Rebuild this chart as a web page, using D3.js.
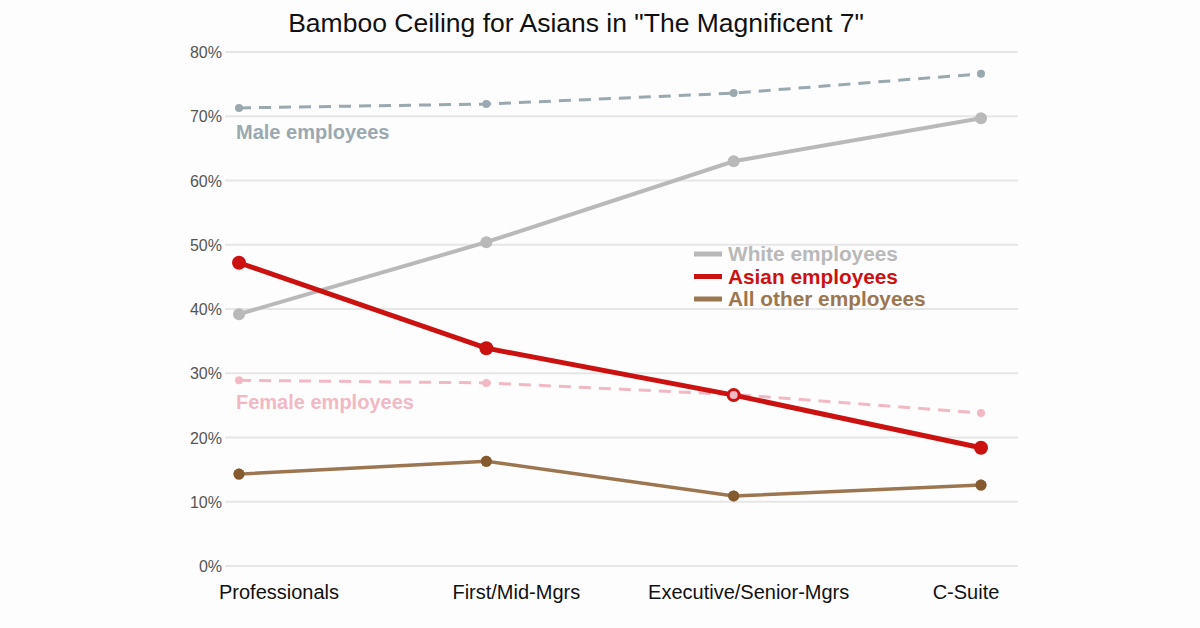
<!DOCTYPE html>
<html><head><meta charset="utf-8">
<script src="https://cdn.jsdelivr.net/npm/d3@7"></script>
<style>body{margin:0;background:#fdfdfd}text{font-family:"Liberation Sans",Arial,sans-serif}</style>
</head><body>
<svg id="chart" width="1200" height="628"></svg>
<script>
var categories = ["Professionals", "First/Mid-Mgrs", "Executive/Senior-Mgrs", "C-Suite"];
var yTicks = [0, 10, 20, 30, 40, 50, 60, 70, 80];
var male = [71.3, 71.9, 73.6, 76.6];
var female = [28.9, 28.5, 26.7, 23.8];
var white = [39.2, 50.4, 63.0, 69.7];
var asian = [47.2, 33.9, 26.6, 18.4];
var other = [14.3, 16.3, 10.9, 12.6];

var svg = d3.select("#chart");
var x = d3.scalePoint().domain(categories).range([239, 981]);
var y = d3.scaleLinear().domain([0, 80]).range([566, 52]);
var labelShift = [40, 30, 15, -15];

// gridlines + y labels
svg.selectAll(".grid").data(yTicks).enter().append("line")
    .attr("x1", 225).attr("x2", 1018)
    .attr("y1", function (d) { return y(d); }).attr("y2", function (d) { return y(d); })
    .style("stroke", "#e6e6e6").style("stroke-width", 2);
svg.selectAll(".ylab").data(yTicks).enter().append("text")
    .text(function (d) { return d + "%"; })
    .attr("x", 222).attr("y", function (d) { return y(d) + 6; })
    .style("text-anchor", "end").style("font-size", 16).style("fill", "#555");

svg.selectAll(".xlab").data(categories).enter().append("text")
    .text(function (d) { return d; })
    .attr("x", function (d, i) { return x(d) + labelShift[i]; }).attr("y", 599)
    .style("text-anchor", "middle").style("font-size", 20).style("fill", "#111");

svg.append("text").text('Bamboo Ceiling for Asians in "The Magnificent 7"')
    .attr("x", 576).attr("y", 32).style("text-anchor", "middle").style("font-size", 26.5).style("fill", "#111");

var line = d3.line().x(function (d, i) { return x(categories[i]); }).y(function (d) { return y(d); });

function drawSeries(vals, color, width, dash, r) {
    svg.append("path").datum(vals).attr("d", line)
        .style("fill", "none").style("stroke", color).style("stroke-width", width)
        .style("stroke-dasharray", dash);
    svg.selectAll(null).data(vals).enter().append("circle")
        .attr("cx", function (d, i) { return x(categories[i]); })
        .attr("cy", function (d) { return y(d); })
        .attr("r", r).style("fill", color);
}

drawSeries(male, "#9aa8b0", 3, "12,8", 4);
drawSeries(female, "#f2b8c4", 3, "12,8", 4);
drawSeries(white, "#b9b9b9", 4, null, 6);
drawSeries(other, "#9c7650", 3.5, null, 5.5);
svg.selectAll(".oc").data(other).enter().append("circle")
    .attr("cx", function (d, i) { return x(categories[i]); }).attr("cy", function (d) { return y(d); })
    .attr("r", 5.5).style("fill", "#855a2e");
drawSeries(asian, "#cc1111", 5, null, 7);
svg.append("circle").attr("cx", x(categories[2])).attr("cy", y(asian[2])).attr("r", 4)
    .style("fill", "#f2b8c4");

svg.append("text").text("Male employees").attr("x", 236).attr("y", 139)
    .style("font-size", 20).style("font-weight", "bold").style("fill", "#9aa8b0");
svg.append("text").text("Female employees").attr("x", 236).attr("y", 409)
    .style("font-size", 20).style("font-weight", "bold").style("fill", "#f2b8c4");

var legend = [["White employees", "#b9b9b9"], ["Asian employees", "#cc1111"], ["All other employees", "#9c7650"]];
var lg = svg.selectAll(".lg").data(legend).enter().append("g")
    .attr("transform", function (d, i) { return "translate(694," + (254 + i * 22.5) + ")"; });
lg.append("line").attr("x1", 0).attr("x2", 28).style("stroke", function (d) { return d[1]; }).style("stroke-width", 5);
lg.append("text").text(function (d) { return d[0]; }).attr("x", 34).attr("y", 7)
    .style("font-size", 20.8).style("font-weight", "bold").style("fill", function (d) { return d[1]; });
</script>
</body></html>
